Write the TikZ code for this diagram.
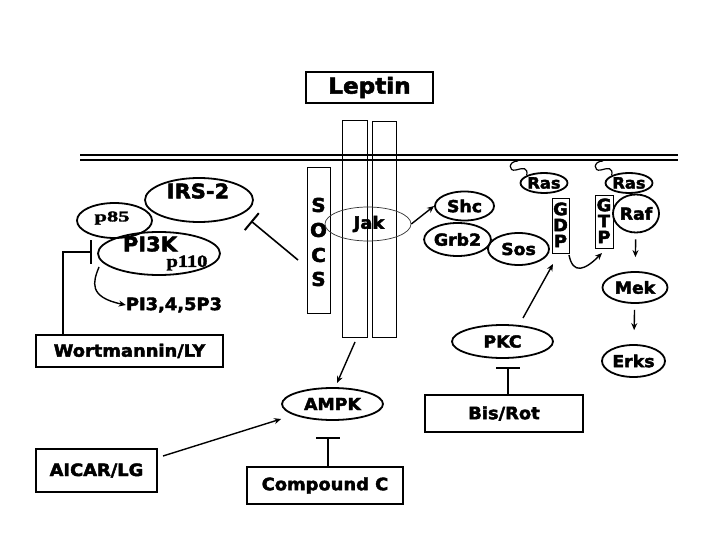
\documentclass[tikz,border=0pt]{standalone}
\usepackage{fontspec}
\setmainfont{DejaVu Sans}
\newfontfamily\hb{DejaVu Sans Bold}[FakeStretch=1.05, FakeBold=2.5]
\newfontfamily\serpa{Liberation Serif Bold}[FakeStretch=1.5, FakeBold=2]
\newfontfamily\serpb{Liberation Serif Bold}[FakeStretch=1.2, FakeBold=2]
\usetikzlibrary{shapes.geometric,arrows.meta}
\newcommand\fsz[1]{\hb\fontsize{#1}{#1}\selectfont}
\tikzset{
  bx/.style={draw, line width=1.8pt, inner sep=0pt, font=\fsz{17}},
  ov/.style={draw, ellipse, line width=1.8pt, inner sep=0pt, font=\fsz{16.5}},
  recbox/.style={draw, line width=0.8pt, inner sep=0pt},
  arr/.style={line width=1.4pt, -{Stealth[length=7pt,width=6pt]}},
  inh/.style={line width=1.6pt, -{Bar[width=24pt,line width=2pt]}},
  lbl/.style={inner sep=0pt, font=\fsz{16.5}},
}
\begin{document}
\begin{tikzpicture}[x=1pt,y=-1pt]
\useasboundingbox[fill=white] (0,0) rectangle (720,540);
% membrane
\draw[line width=2pt] (80,155) -- (678,155);
\draw[line width=2pt] (80,160) -- (678,160);
% Leptin
\node[bx, minimum width=127pt, minimum height=31pt, font=\fsz{22}] (leptin) at (369.5,87.5) {Leptin};
% receptor chains
\node[recbox, minimum width=25pt, minimum height=217pt] (rec1) at (354.5,228.5) {};
\node[recbox, minimum width=24pt, minimum height=216pt] (rec2) at (384,229) {};
% SOCS
\node[recbox, line width=1pt, minimum width=23pt, minimum height=145pt] (socs) at (318.5,240.5) {};
\node[lbl, font=\fsz{19}] (s1) at (318.5,205) {S};
\node[lbl, font=\fsz{19}] (s2) at (318.5,230) {O};
\node[lbl, font=\fsz{19}] (s3) at (318.5,255) {C};
\node[lbl, font=\fsz{19}] (s4) at (318.5,279) {S};
% Jak
\node[draw, ellipse, line width=0.7pt, draw=black!80, minimum width=86pt, minimum height=34pt, inner sep=0pt] (jak) at (368,224) {};
\node[lbl, font=\fsz{17}] (jakt) at (369,224) {Jak};
% IRS-2, p85, PI3K
\node[ov, minimum width=108pt, minimum height=44pt] (irs) at (199,200) {};
\node[lbl, font=\fsz{20}] (irst) at (198,191) {IRS-2};
\node[ov, minimum width=75pt, minimum height=35pt] (p85) at (114.5,220.5) {};
\node[lbl, font=\serpa\fontsize{15}{15}\selectfont] (p85t) at (112,218) {p85};
\node[ov, minimum width=122pt, minimum height=43pt] (pi3k) at (159,253.5) {};
\node[lbl, font=\fsz{20}] (pi3kt) at (150,244) {PI3K};
\node[lbl, font=\serpb\fontsize{17}{17}\selectfont] (p110) at (187,263) {p110};
\node[lbl, font=\fsz{17}] (pip3) at (174,305) {PI3,4,5P3};
\coordinate (pistart) at (99,267);
\draw[arr] (pistart) .. controls (93,282) and (88,297) .. (pip3.west);
% Wortmannin
\node[bx, minimum width=187pt, minimum height=32pt] (wort) at (129.5,351) {Wortmannin/LY};
\coordinate (wbar) at (92,252);
\draw[inh] (wort.north west -| 63,0) |- (wbar);
% SOCS -| IRS-2
\coordinate (socsinh) at (298,260);
\coordinate (irsbar) at (251,221);
\draw[inh, -{Bar[width=22pt,line width=2pt]}] (socsinh) -- (irsbar);
% Shc, Grb2, Sos
\node[ov, minimum width=59pt, minimum height=29pt] (shc) at (464.5,206) {Shc};
\node[ov, minimum width=61pt, minimum height=33pt] (grb2) at (457.5,239.5) {Grb2};
\node[ov, minimum width=61pt, minimum height=32pt] (sos) at (518.5,249) {Sos};
\draw[arr] (jak.east) -- (shc.west);
% Ras
\node[ov, minimum width=40pt, minimum height=20pt, font=\fsz{15.5}] (ras1) at (544,183) {Ras};
\node[ov, minimum width=40pt, minimum height=20pt, font=\fsz{15.5}] (ras2) at (629,183) {Ras};
\draw[line width=1.2pt] (518,161) .. controls (508,161) and (508,172) .. (516,170) .. controls (523,168) and (528,167) .. (ras1.north west);
\draw[line width=1.2pt] (603,161) .. controls (593,161) and (593,172) .. (601,170) .. controls (608,168) and (613,167) .. (ras2.north west);
% GDP, GTP
\node[draw, line width=1pt, minimum width=17pt, minimum height=54pt, inner sep=0pt] (gdp) at (560.5,226) {};
\node[lbl, font=\fsz{17}] at (560.5,209) {G};
\node[lbl, font=\fsz{17}] at (560.5,225) {D};
\node[lbl, font=\fsz{17}] at (560.5,241) {P};
\node[draw, line width=1pt, minimum width=18pt, minimum height=52pt, inner sep=0pt] (gtp) at (604,222) {};
\node[lbl, font=\fsz{17}] at (604,205) {G};
\node[lbl, font=\fsz{17}] at (604,221) {T};
\node[lbl, font=\fsz{17}] at (604,237) {P};
\draw[arr] (569,255) .. controls (573,275) and (585,270) .. (602,253);
% Raf, Mek, Erks
\node[ov, minimum width=36pt, minimum height=38pt] (raf) at (636,213.5) {Raf};
\node[ov, minimum width=65pt, minimum height=31pt] (mek) at (635,287.5) {Mek};
\node[ov, minimum width=63pt, minimum height=32pt] (erks) at (633.5,361) {Erks};
\draw[arr, shorten <=6pt, shorten >=14pt] (raf) -- (mek);
\draw[arr, shorten <=6pt, shorten >=14pt] (mek) -- (erks);
% PKC
\node[ov, minimum width=101pt, minimum height=33pt] (pkc) at (502.5,341.5) {PKC};
\coordinate (pkctop) at (523,318);
\coordinate (gdpin) at (553,264);
\draw[arr] (pkctop) -- (gdpin);
\node[bx, minimum width=158pt, minimum height=37pt] (bis) at (504,413.5) {Bis/Rot};
\coordinate (pkcbar) at (508,367);
\draw[inh] (bis.north -| pkcbar) -- (pkcbar);
% AMPK
\node[ov, minimum width=101pt, minimum height=32pt] (ampk) at (332.5,404) {AMPK};
\coordinate (recbot) at (355,342);
\draw[arr] (recbot) -- (337,383);
\node[bx, minimum width=156pt, minimum height=37pt] (compc) at (325,485.5) {Compound C};
\coordinate (ampkbar) at (328,437);
\draw[inh] (compc.north -| ampkbar) -- (ampkbar);
\node[bx, minimum width=121pt, minimum height=43pt] (aicar) at (96.5,470.5) {AICAR/LG};
\coordinate (aicout) at (163,456);
\draw[arr] (aicout) -- (ampk.west |- 0,419) ;
\end{tikzpicture}
\end{document}
